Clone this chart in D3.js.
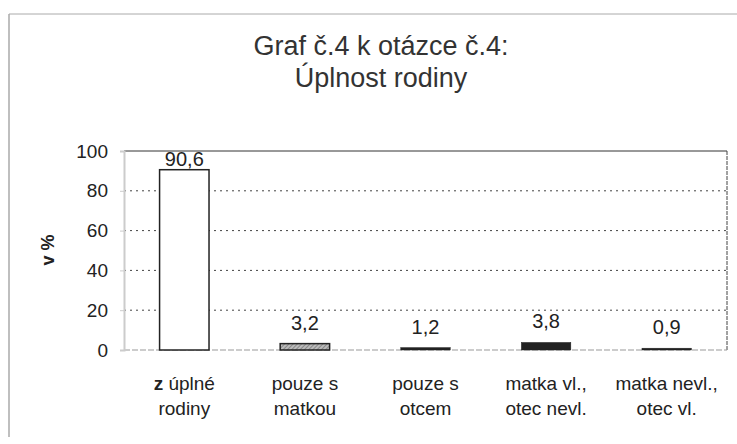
<!DOCTYPE html>
<html><head><meta charset="utf-8">
<script src="https://cdn.jsdelivr.net/npm/d3@7"></script>
<style>body{margin:0;background:#fff}svg{display:block}text{font-family:"Liberation Sans",Arial,sans-serif;fill:#222}</style>
</head><body>
<svg id="c" width="737" height="444"></svg>
<script>
const categories = [["z úplné","rodiny"],["pouze s","matkou"],["pouze s","otcem"],["matka vl.,","otec nevl."],["matka nevl.,","otec vl."]];
const values = [90.6, 3.2, 1.2, 3.8, 0.9];
const valueLabels = ["90,6","3,2","1,2","3,8","0,9"];
const yTicks = [0,20,40,60,80,100];
const titleLines = ["Graf č.4 k otázce č.4:","Úplnost rodiny"];
const yLabel = "v %";

const svg = d3.select("#c");
const m = {l:124, r:727, t:151, b:350};
const x = d3.scaleBand().domain(d3.range(values.length)).range([m.l,m.r]).paddingInner(0.59).paddingOuter(0.295);
const y = d3.scaleLinear().domain([0,100]).range([m.b,m.t]);

const defs = svg.append("defs");
const pat = defs.append("pattern").attr("id","hatch").attr("width",3).attr("height",3).attr("patternUnits","userSpaceOnUse").attr("patternTransform","rotate(45)");
pat.append("rect").attr("width",3).attr("height",3).attr("fill","#bbb");
pat.append("line").attr("x1",0).attr("y1",0).attr("x2",0).attr("y2",3).attr("stroke","#555").attr("stroke-width",1);

// outer frame
svg.append("line").attr("x1",9).attr("x2",737).attr("y1",14).attr("y2",14).attr("stroke","#aaa").attr("stroke-width",1);
svg.append("line").attr("x1",9).attr("x2",9).attr("y1",14).attr("y2",437).attr("stroke","#aaa").attr("stroke-width",1.5);

// title
svg.append("text").attr("x",381).attr("y",55).attr("text-anchor","middle").style("font-size","27px").style("fill","#333").text(titleLines[0]);
svg.append("text").attr("x",381).attr("y",87).attr("text-anchor","middle").style("font-size","27px").style("fill","#333").text(titleLines[1]);

// gridlines
svg.append("g").selectAll("line").data(yTicks.filter(d=>d>0&&d<100)).join("line")
 .attr("x1",m.l).attr("x2",m.r).attr("y1",d=>y(d)).attr("y2",d=>y(d))
 .attr("stroke","#444").attr("stroke-width",1).attr("stroke-dasharray","2,4");
// top and right border
svg.append("line").attr("x1",m.l).attr("x2",m.r).attr("y1",y(100)).attr("y2",y(100)).attr("stroke","#333").attr("stroke-width",1);
svg.append("line").attr("x1",m.r).attr("x2",m.r).attr("y1",y(100)).attr("y2",y(0)).attr("stroke","#444").attr("stroke-width",1).attr("stroke-dasharray","4,1");
// baseline
svg.append("line").attr("x1",m.l).attr("x2",m.r).attr("y1",y(0)).attr("y2",y(0)).attr("stroke","#999").attr("stroke-width",1).attr("stroke-dasharray","6,2");

// y axis
const ya = svg.append("g").attr("transform",`translate(${m.l},0)`).call(d3.axisLeft(y).tickValues(yTicks).tickSize(4).tickPadding(12));
ya.select(".domain").attr("stroke","#ccc").attr("stroke-width",2);
ya.selectAll(".tick line").attr("stroke","#ccc");
ya.selectAll("text").style("font-size","19px").style("fill","#222").attr("font-family","Liberation Sans, Arial, sans-serif");

// y label
svg.append("text").attr("transform","translate(54,250) rotate(-90)").attr("text-anchor","middle").style("font-size","18px").style("font-weight","bold").text(yLabel);

// bars
const fills = ["#fff","url(#hatch)","#222","#222","#222"];
svg.append("g").selectAll("rect").data(values).join("rect")
 .attr("x",(d,i)=>x(i)).attr("width",x.bandwidth())
 .attr("y",d=>y(d)).attr("height",d=>y(0)-y(d))
 .attr("fill",(d,i)=>fills[i]).attr("stroke","#222").attr("stroke-width",(d,i)=>i<2?1.5:0.5);

// value labels
svg.append("g").selectAll("text").data(values).join("text")
 .attr("x",(d,i)=>x(i)+x.bandwidth()/2).attr("y",d=>Math.max(y(d)-14, y(100)+15))
 .attr("text-anchor","middle").style("font-size","20px").text((d,i)=>valueLabels[i]);

// category labels
const cg = svg.append("g").selectAll("text").data(categories).join("text")
 .attr("x",(d,i)=>x(i)+x.bandwidth()/2).attr("text-anchor","middle").style("font-size","19px");
cg.each(function(d,i){
  const t = d3.select(this);
  d.forEach((line,j)=>{
    const ts = t.append("tspan").attr("x",x(i)+x.bandwidth()/2).attr("y",390+j*25);
    if(i===0 && j===0){
      ts.append("tspan").style("font-weight","bold").text("z");
      ts.append("tspan").text(" úplné");
    } else ts.text(line);
  });
});
</script>
</body></html>
